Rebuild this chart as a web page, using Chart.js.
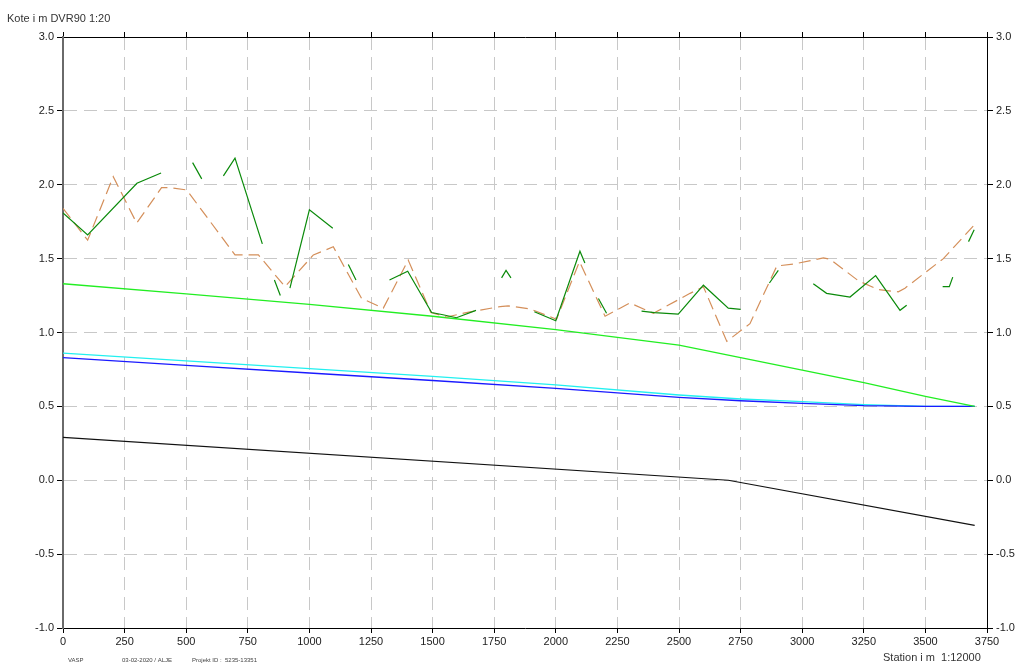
<!DOCTYPE html>
<html>
<head>
<meta charset="utf-8">
<title>Længdeprofil</title>
<script src="https://cdn.jsdelivr.net/npm/chart.js@4.4.1/dist/chart.umd.min.js"></script>
<style>
  html, body { margin: 0; padding: 0; background: #fff; }
  #wrap { position: relative; width: 1018px; height: 664px; }
</style>
</head>
<body>
<div id="wrap"><canvas id="profilChart" width="1018" height="664"></canvas></div>
<script>
// akser
const stationMin = 0;
const stationMax = 3750;
const stationStep = 250;
const koteMin = -1.0;
const koteMax = 3.0;
const koteStep = 0.5;

// målt terræn (grøn, med huller)
const terrainStation = [0, 100, 300, 398, 460, 526, 563, 600, 651, 698, 809, 830, 858, 882, 900, 921, 1000, 1095, 1120, 1158, 1189, 1250, 1325, 1399, 1496, 1542, 1597, 1676, 1730, 1780, 1798, 1818, 1860, 1913, 2000, 2098, 2118, 2150, 2173, 2206, 2280, 2348, 2400, 2497, 2599, 2700, 2750, 2810, 2867, 2903, 2970, 3045, 3099, 3194, 3298, 3397, 3424, 3500, 3570, 3597, 3611, 3640, 3675, 3698];
const terrainKote = [1.81, 1.66, 2.01, 2.08, null, 2.15, 2.04, null, 2.06, 2.18, 1.60, null, 1.355, 1.25, null, 1.30, 1.83, 1.705, null, 1.46, 1.355, null, 1.355, 1.415, 1.135, 1.12, 1.10, 1.15, null, 1.37, 1.42, 1.37, null, 1.14, 1.08, 1.55, 1.47, null, 1.23, 1.13, null, 1.145, 1.135, 1.125, 1.32, 1.165, 1.157, null, 1.335, 1.42, null, 1.33, 1.265, 1.24, 1.385, 1.15, 1.185, null, 1.31, 1.31, 1.375, null, 1.615, 1.695];

// bundkote (orange, stiplet)
const bundStation = [0, 100, 204, 299, 400, 434, 502, 698, 793, 901, 1016, 1097, 1212, 1300, 1401, 1493, 1557, 1652, 1774, 1807, 1895, 2003, 2096, 2200, 2301, 2396, 2545, 2599, 2694, 2788, 2897, 2971, 3086, 3114, 3228, 3310, 3390, 3417, 3573, 3694];
const bundKote = [1.84, 1.625, 2.055, 1.74, 1.98, 1.98, 1.965, 1.525, 1.525, 1.31, 1.525, 1.58, 1.23, 1.165, 1.49, 1.135, 1.105, 1.14, 1.175, 1.18, 1.16, 1.09, 1.48, 1.11, 1.20, 1.13, 1.265, 1.31, 0.94, 1.06, 1.45, 1.465, 1.505, 1.495, 1.35, 1.29, 1.275, 1.30, 1.50, 1.72];

// beregnede linjer
const linjeStation = [0, 500, 1000, 1500, 2000, 2500, 2750, 3000, 3250, 3500, 3700];
const lysGroenKote = [1.33, 1.262, 1.19, 1.11, 1.02, 0.915, 0.83, 0.745, 0.66, 0.568, 0.50];
const cyanKote = [0.86, 0.808, 0.755, 0.703, 0.645, 0.577, 0.55, 0.532, 0.512, 0.50, 0.50];
const blaaKote = [0.83, 0.778, 0.726, 0.675, 0.622, 0.561, 0.538, 0.52, 0.505, 0.50, 0.50];

const sortStation = [0, 2700, 3700];
const sortKote = [0.29, 0.0, -0.305];

function pts(xs, ys) {
    return xs.map((x, i) => ({ x: x, y: ys[i] }));
}

const fontFamily = '"Liberation Sans", Arial, sans-serif';
const tickFont = { family: fontFamily, size: 11 };
const gridColor = '#c8c8c8';
const gridDash = [13, 7];

function edgeGrid(min, max) {
    return function (c) {
        if (c.tick && (Math.abs(c.tick.value - min) < 1e-9 || Math.abs(c.tick.value - max) < 1e-9)) {
            return 'rgba(0,0,0,0)';
        }
        return gridColor;
    };
}

const tekstPlugin = {
    id: 'tekster',
    afterDraw(chart) {
        const c = chart.ctx;
        c.save();
        c.fillStyle = '#333';
        c.textBaseline = 'alphabetic';
        c.textAlign = 'left';
        c.font = '11px ' + fontFamily;
        c.fillText('Kote i m DVR90 1:20', 7, 22);
        c.fillText('Station i m  1:12000', 883, 661);
        c.font = '6px ' + fontFamily;
        c.fillStyle = '#444';
        c.fillText('VASP', 68, 662);
        c.fillText('03-02-2020 / ALJE', 122, 662);
        c.fillText('Projekt ID :  5235-13351', 192, 662);
        c.restore();
    }
};

const ctx = document.getElementById('profilChart');

new Chart(ctx, {
    type: 'line',
    data: {
        datasets: [
            {
                label: 'Terræn',
                data: pts(terrainStation, terrainKote),
                borderColor: '#0a8a0a',
                borderWidth: 1.2,
                spanGaps: false
            },
            {
                label: 'Bund',
                data: pts(bundStation, bundKote),
                borderColor: '#d48f5a',
                borderWidth: 1.2,
                borderDash: [12, 6]
            },
            {
                label: 'Lys grøn',
                data: pts(linjeStation, lysGroenKote),
                borderColor: '#22ee22',
                borderWidth: 1.3
            },
            {
                label: 'Blå',
                data: pts(linjeStation, blaaKote),
                borderColor: '#1a1aff',
                borderWidth: 1.3
            },
            {
                label: 'Cyan',
                data: pts(linjeStation, cyanKote),
                borderColor: '#22f0f0',
                borderWidth: 1.3
            },
            {
                label: 'Sort',
                data: pts(sortStation, sortKote),
                borderColor: '#111111',
                borderWidth: 1.2
            }
        ]
    },
    options: {
        responsive: false,
        animation: false,
        layout: { padding: 0 },
        elements: {
            point: { radius: 0 },
            line: { tension: 0, fill: false }
        },
        plugins: {
            legend: { display: false },
            tooltip: { enabled: false }
        },
        scales: {
            x: {
                type: 'linear',
                position: 'bottom',
                min: stationMin,
                max: stationMax,
                ticks: {
                    stepSize: stationStep,
                    font: tickFont,
                    color: '#222',
                    padding: 2,
                    maxRotation: 0,
                    autoSkip: false,
                    callback: function (v) { return String(v); }
                },
                grid: {
                    color: edgeGrid(stationMin, stationMax),
                    tickColor: '#000',
                    tickLength: 5
                },
                border: { color: '#000', width: 1, dash: gridDash },
                afterFit: function (s) { s.height = 36; }
            },
            xTop: {
                type: 'linear',
                position: 'top',
                min: stationMin,
                max: stationMax,
                ticks: { stepSize: stationStep, display: false },
                grid: { drawOnChartArea: false, tickColor: '#000', tickLength: 5 },
                border: { color: '#000', width: 1 },
                afterFit: function (s) { s.height = 37; }
            },
            y: {
                position: 'left',
                min: koteMin,
                max: koteMax,
                ticks: {
                    stepSize: koteStep,
                    font: tickFont,
                    color: '#222',
                    padding: 3,
                    callback: function (v) { return Number(v).toFixed(1); }
                },
                grid: {
                    color: edgeGrid(koteMin, koteMax),
                    tickColor: '#000',
                    tickLength: 6
                },
                border: { color: '#6a6a6a', width: 2, dash: gridDash },
                afterFit: function (s) { s.width = 63; }
            },
            y2: {
                position: 'right',
                min: koteMin,
                max: koteMax,
                ticks: {
                    stepSize: koteStep,
                    font: tickFont,
                    color: '#222',
                    padding: 3,
                    callback: function (v) { return Number(v).toFixed(1); }
                },
                grid: { drawOnChartArea: false, tickColor: '#000', tickLength: 6 },
                border: { color: '#000', width: 1 },
                afterFit: function (s) { s.width = 31; }
            }
        }
    },
    plugins: [tekstPlugin]
});
</script>
</body>
</html>
